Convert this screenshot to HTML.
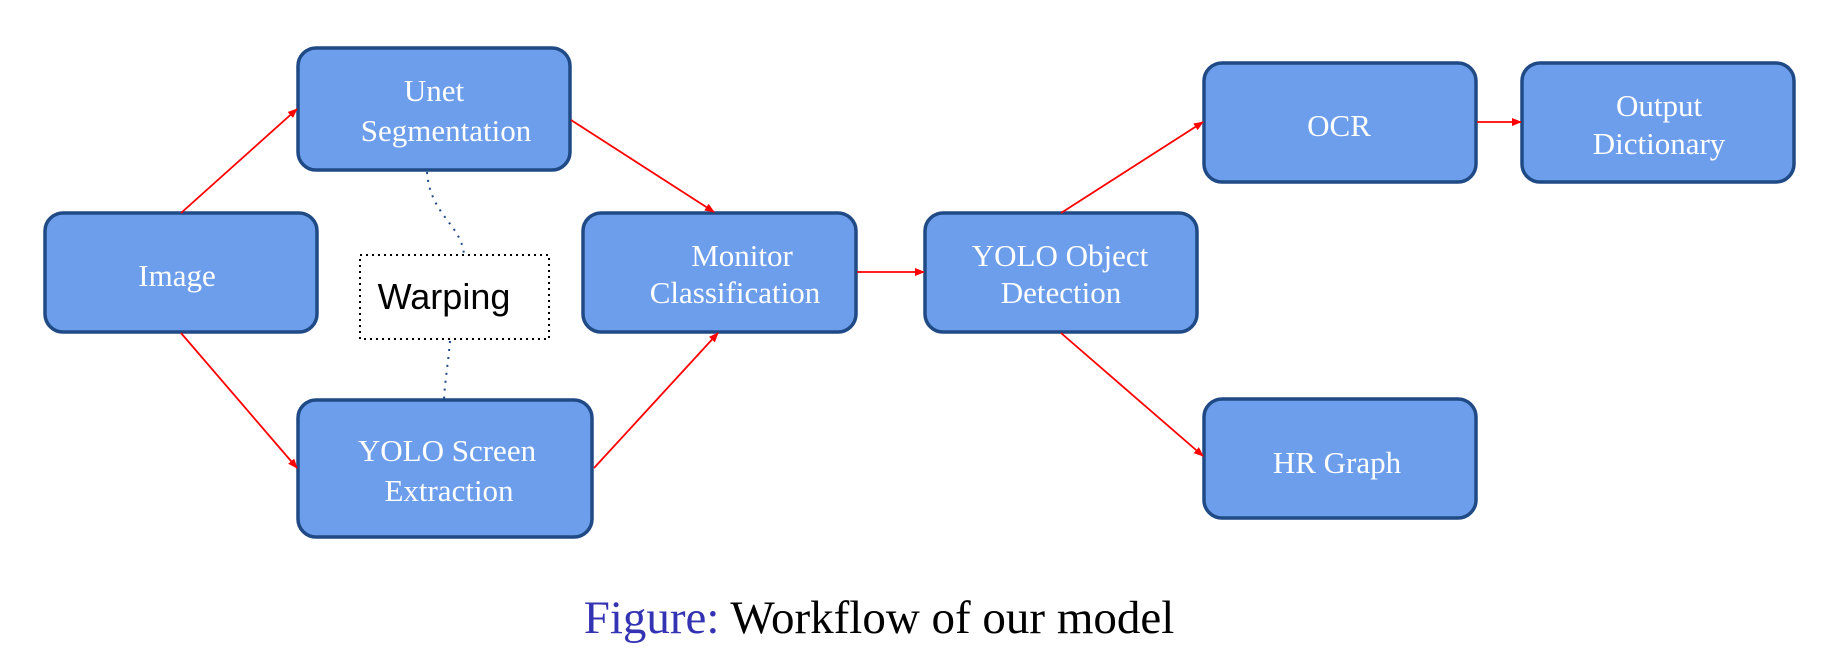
<!DOCTYPE html>
<html><head><meta charset="utf-8"><style>
body{margin:0;background:#fff}
svg{display:block}
.n{fill:#6d9eeb;stroke:#1f4a85;stroke-width:3.5}
.t{font-family:"Liberation Serif",serif;font-size:31px;fill:#fff;text-anchor:middle}
.a{stroke:#f00;stroke-width:1.8;fill:none;marker-end:url(#ah)}
</style></head><body>
<svg width="1833" height="655" viewBox="0 0 1833 655" xmlns="http://www.w3.org/2000/svg">
<defs><marker id="ah" markerWidth="10" markerHeight="8" refX="9" refY="4" orient="auto" markerUnits="userSpaceOnUse"><path d="M0,0 L10,4 L0,8 z" fill="#f00"/></marker></defs>
<rect class="n" x="45" y="213" width="272" height="119" rx="18"/>
<rect class="n" x="298" y="48" width="272" height="122" rx="18"/>
<rect class="n" x="583" y="213" width="273" height="119" rx="18"/>
<rect class="n" x="298" y="400" width="294" height="137" rx="18"/>
<rect class="n" x="925" y="213" width="272" height="119" rx="18"/>
<rect class="n" x="1204" y="63" width="272" height="119" rx="18"/>
<rect class="n" x="1522" y="63" width="272" height="119" rx="18"/>
<rect class="n" x="1204" y="399" width="272" height="119" rx="18"/>
<rect x="360" y="255" width="189" height="84" fill="#fff" stroke="#000" stroke-width="2" stroke-dasharray="2,4"/>
<text x="444" y="309" font-family="Liberation Sans,sans-serif" font-size="36" fill="#000" text-anchor="middle">Warping</text>
<path d="M427,172 C430,215 462,225 464,255" stroke="#1f4a85" stroke-width="2" fill="none" stroke-dasharray="2,6"/>
<path d="M450,341 C448,365 445,380 444,400" stroke="#1f4a85" stroke-width="2" fill="none" stroke-dasharray="2,6"/>
<line class="a" x1="181" y1="213" x2="297" y2="109"/>
<line class="a" x1="571" y1="120" x2="714" y2="212"/>
<line class="a" x1="181" y1="333" x2="297" y2="468"/>
<line class="a" x1="594" y1="468" x2="718" y2="333"/>
<line class="a" x1="857" y1="272" x2="924" y2="272"/>
<line class="a" x1="1061" y1="213" x2="1203" y2="122"/>
<line class="a" x1="1477" y1="122" x2="1521" y2="122"/>
<line class="a" x1="1061" y1="333" x2="1203" y2="456"/>
<text class="t" x="177" y="286">Image</text>
<text class="t" x="434" y="101">Unet</text>
<text class="t" x="446" y="141">Segmentation</text>
<text class="t" x="742" y="266">Monitor</text>
<text class="t" x="735" y="303">Classification</text>
<text class="t" x="447" y="461">YOLO Screen</text>
<text class="t" x="449" y="501">Extraction</text>
<text class="t" x="1060" y="266">YOLO Object</text>
<text class="t" x="1061" y="303">Detection</text>
<text class="t" x="1339" y="136">OCR</text>
<text class="t" x="1659" y="116">Output</text>
<text class="t" x="1659" y="154">Dictionary</text>
<text class="t" x="1337" y="473">HR Graph</text>
<text x="879" y="633" font-family="Liberation Serif,serif" font-size="47" text-anchor="middle"><tspan fill="#3333b3">Figure:</tspan><tspan fill="#000"> Workflow of our model</tspan></text>
</svg>
</body></html>
